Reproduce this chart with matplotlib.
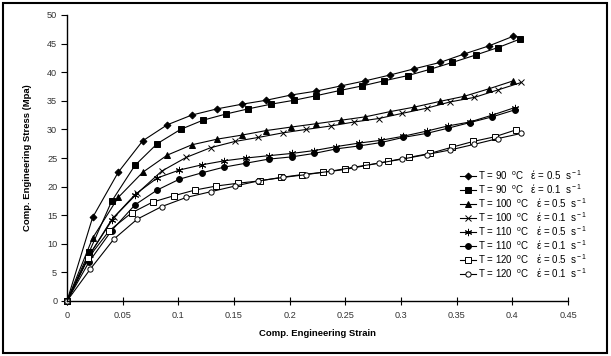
import matplotlib
matplotlib.use("Agg")
import matplotlib.pyplot as plt
from matplotlib.patches import Rectangle
from matplotlib.ticker import FuncFormatter, MultipleLocator

plt.rcParams['font.family'] = ['Liberation Sans', 'DejaVu Sans']
plt.rcParams['mathtext.fontset'] = 'custom'
plt.rcParams['mathtext.rm'] = 'Liberation Sans'
plt.rcParams['mathtext.it'] = 'Liberation Sans'

# strain / stress
strain_90_05 = [0, 0.023, 0.046, 0.068, 0.090, 0.112, 0.135, 0.157, 0.179, 0.201,
                0.224, 0.246, 0.268, 0.290, 0.312, 0.335, 0.357, 0.379, 0.401]
stress_90_05 = [0, 14.6, 22.5, 28.0, 30.8, 32.5, 33.6, 34.4, 35.1, 36.0,
                36.7, 37.6, 38.5, 39.5, 40.6, 41.7, 43.2, 44.6, 46.3]

strain_90_01 = [0, 0.020, 0.040, 0.061, 0.081, 0.102, 0.122, 0.143, 0.163, 0.183, 0.204,
                0.224, 0.245, 0.265, 0.285, 0.306, 0.326, 0.346, 0.367, 0.387, 0.407]
stress_90_01 = [0, 8.6, 17.4, 23.7, 27.5, 30.0, 31.6, 32.7, 33.6, 34.4, 35.1,
                35.9, 36.8, 37.6, 38.5, 39.4, 40.5, 41.7, 43.0, 44.3, 45.8]

strain_100_05 = strain_90_05
stress_100_05 = [0, 11.0, 18.1, 22.5, 25.5, 27.3, 28.3, 29.0, 29.8, 30.4,
                 31.0, 31.6, 32.2, 33.1, 33.9, 34.9, 35.8, 37.1, 38.5]

strain_100_01 = [0, 0.021, 0.042, 0.063, 0.085, 0.107, 0.129, 0.151, 0.172, 0.194,
                 0.215, 0.237, 0.258, 0.280, 0.301, 0.323, 0.344, 0.366, 0.387, 0.408]
stress_100_01 = [0, 8.3, 14.6, 18.8, 22.7, 25.1, 26.8, 27.9, 28.6, 29.4,
                 30.0, 30.6, 31.3, 31.9, 32.8, 33.7, 34.8, 35.6, 36.9, 38.2]

strain_110_05 = [0, 0.020, 0.040, 0.061, 0.081, 0.101, 0.121, 0.141, 0.161, 0.181, 0.202,
                 0.222, 0.242, 0.262, 0.282, 0.302, 0.323, 0.342, 0.362, 0.382, 0.402]
stress_110_05 = [0, 8.0, 14.2, 18.6, 21.5, 22.9, 23.8, 24.5, 25.0, 25.4, 25.8,
                 26.3, 27.0, 27.6, 28.1, 28.8, 29.7, 30.6, 31.3, 32.5, 33.8]

strain_110_01 = strain_110_05
stress_110_01 = [0, 6.9, 12.3, 16.8, 19.4, 21.3, 22.4, 23.4, 24.1, 24.8, 25.2,
                 25.8, 26.6, 27.1, 27.7, 28.6, 29.3, 30.2, 31.2, 32.2, 33.4]

strain_120_05 = [0, 0.019, 0.038, 0.058, 0.077, 0.096, 0.115, 0.134, 0.154, 0.173, 0.192,
                 0.211, 0.230, 0.250, 0.269, 0.288, 0.307, 0.326, 0.346, 0.365, 0.384, 0.403]
stress_120_05 = [0, 7.5, 12.3, 15.4, 17.3, 18.4, 19.4, 20.1, 20.6, 21.0, 21.6,
                 22.1, 22.5, 23.0, 23.7, 24.4, 25.1, 25.8, 26.9, 27.9, 28.7, 29.9]

strain_120_01 = strain_100_01
stress_120_01 = [0, 5.6, 10.8, 14.3, 16.5, 18.1, 19.1, 20.1, 21.0, 21.6,
                 22.1, 22.7, 23.4, 24.1, 24.8, 25.6, 26.4, 27.4, 28.4, 29.3]

temps = ["90", "90", "100", "100", "110", "110", "120", "120"]
rates = ["0.5", "0.1", "0.5", "0.1", "0.5", "0.1", "0.5", "0.1"]
labels = [r"T = %s  $^{\rm o}$C   έ = %s  s$^{\rm -1}$" % (t, r) for t, r in zip(temps, rates)]

series = [
    (strain_90_05, stress_90_05, 'D', 3.5, 'black'),
    (strain_90_01, stress_90_01, 's', 4.2, 'black'),
    (strain_100_05, stress_100_05, '^', 4.3, 'black'),
    (strain_100_01, stress_100_01, 'x', 4.3, 'black'),
    (strain_110_05, stress_110_05, (6, 2, 0), 5.2, 'black'),
    (strain_110_01, stress_110_01, 'o', 4.2, 'black'),
    (strain_120_05, stress_120_05, 's', 3.8, 'white'),
    (strain_120_01, stress_120_01, 'o', 3.8, 'white'),
]

fig = plt.figure(figsize=(6.11, 3.56), dpi=100)
ax = fig.add_axes([67 / 611, 1 - 301 / 356, 501 / 611, 286 / 356])

for (x, y, m, ms, fc), lab in zip(series, labels):
    ax.plot(x, y, color='black', lw=0.8, marker=m, ms=ms, mfc=fc,
            mec='black', mew=0.7, label=lab, clip_on=False)

ax.set_xlim(0, 0.45)
ax.set_ylim(0, 50)
ax.xaxis.set_major_locator(MultipleLocator(0.05))
ax.yaxis.set_major_locator(MultipleLocator(5))
ax.xaxis.set_major_formatter(FuncFormatter(lambda v, p: '%g' % round(v, 2)))
ax.yaxis.set_major_formatter(FuncFormatter(lambda v, p: '%g' % v))

for s in ['top', 'right']:
    ax.spines[s].set_visible(False)
for s in ['left', 'bottom']:
    ax.spines[s].set_linewidth(1.0)

ax.tick_params(axis='x', direction='inout', length=6, width=0.8, labelsize=6.6,
               labelcolor='#333333', pad=4)
ax.tick_params(axis='y', direction='out', length=4, width=0.8, labelsize=6.6,
               labelcolor='#333333', pad=3)

ax.set_xlabel("Comp. Engineering Strain", fontsize=6.8, fontweight='bold', labelpad=7)
ax.set_ylabel("Comp. Engineering Stress (Mpa)", fontsize=6.8, fontweight='bold', labelpad=11)

ax.legend(loc='upper left', bbox_to_anchor=(460 / 611, 1 - 168 / 356),
          bbox_transform=fig.transFigure, frameon=False, fontsize=7,
          handlelength=1.6, handletextpad=0.2, labelspacing=0.02,
          borderpad=0, borderaxespad=0)

fig.patches.append(Rectangle((3 / 611, 3 / 356), 604 / 611, 350 / 356,
                             transform=fig.transFigure, fill=False,
                             edgecolor='black', lw=1.5))

fig.savefig("out.png", dpi=100)
